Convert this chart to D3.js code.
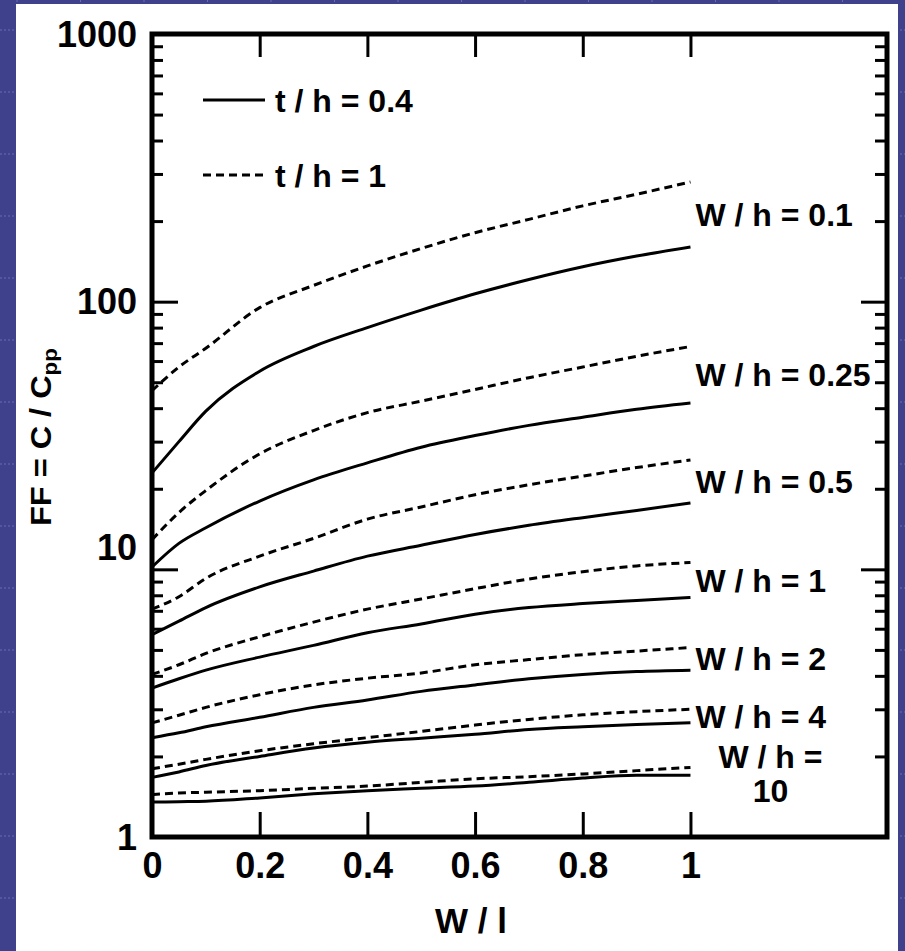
<!DOCTYPE html>
<html>
<head>
<meta charset="utf-8">
<script src="https://cdn.jsdelivr.net/npm/d3@7"></script>
<style>
  body { margin: 0; background: #3f418c; }
  svg { display: block; font-family: "Liberation Sans", Arial, sans-serif; font-weight: bold; }
  .tick line { stroke: #000; stroke-width: 3; }
  .line { fill: none; stroke: #000; stroke-width: 3; stroke-linejoin: round; }
  .dashed { stroke-dasharray: 8, 5; }
</style>
</head>
<body>
<svg class="ff-chart"></svg>
<script>
// W / l positions where the curves were read
var xValues = [0, 0.05, 0.1, 0.2, 0.3, 0.4, 0.5, 0.6, 0.7, 0.8, 0.9, 1];
var xTicks = [0, 0.2, 0.4, 0.6, 0.8, 1];
var yMajor = [1, 10, 100, 1000];
var wOverH = ["0.1", "0.25", "0.5", "1", "2", "4", "10"];

// t / h = 0.4 (solid)
var solidSeries = [
  [22.9, 30, 39, 55, 68, 80, 93, 107, 121, 135, 148, 160],
  [10.2, 12.5, 14.3, 18.0, 21.6, 25.0, 28.6, 31.6, 34.5, 37.0, 39.6, 41.8],
  [5.7, 6.4, 7.2, 8.6, 9.85, 11.2, 12.3, 13.5, 14.6, 15.6, 16.6, 17.7],
  [3.6, 3.9, 4.2, 4.7, 5.2, 5.8, 6.25, 6.8, 7.2, 7.45, 7.65, 7.85],
  [2.35, 2.45, 2.58, 2.8, 3.05, 3.25, 3.5, 3.7, 3.9, 4.05, 4.15, 4.2],
  [1.67, 1.75, 1.85, 2.0, 2.15, 2.26, 2.34, 2.42, 2.52, 2.58, 2.63, 2.67],
  [1.35, 1.355, 1.36, 1.4, 1.45, 1.49, 1.52, 1.55, 1.6, 1.66, 1.7, 1.7]
];

// t / h = 1 (dashed)
var dashedSeries = [
  [46.5, 57, 67, 95, 115, 136, 158, 181, 203, 228, 252, 280],
  [12.9, 16.3, 19.7, 27, 33, 38.5, 42.5, 47, 52, 57, 62.5, 68],
  [7.1, 7.9, 9.25, 11.2, 13.05, 15.4, 17.1, 19.0, 20.7, 22.3, 24.0, 25.6],
  [4.05, 4.4, 4.85, 5.6, 6.35, 7.1, 7.75, 8.47, 9.2, 9.8, 10.3, 10.6],
  [2.67, 2.85, 3.05, 3.4, 3.7, 3.92, 4.1, 4.4, 4.6, 4.8, 4.95, 5.1],
  [1.8, 1.87, 1.95, 2.1, 2.23, 2.35, 2.48, 2.62, 2.75, 2.86, 2.94, 3.0],
  [1.44, 1.46, 1.47, 1.49, 1.52, 1.55, 1.6, 1.65, 1.68, 1.72, 1.77, 1.82]
];

drawChart();

function drawChart() {
  var W = 905, H = 951;
  var margin = {top: 34, right: 18, bottom: 114, left: 152};
  var width = W - margin.left - margin.right;
  var height = H - margin.top - margin.bottom;

  var svg = d3.select(".ff-chart")
    .attr("width", W)
    .attr("height", H);

  // slide background: blue with faint grid, white panel
  svg.append("rect").attr("width", W).attr("height", H).attr("fill", "#3f418c");
  svg.append("g").selectAll("line")
    .data(d3.range(30, H, 62))
    .enter().append("line")
    .attr("x1", 0).attr("x2", W)
    .attr("y1", function(d) { return d; }).attr("y2", function(d) { return d; })
    .attr("stroke", "#6a6cb0").attr("stroke-width", 1).attr("stroke-dasharray", "2,2");
  svg.append("g").selectAll("line")
    .data(d3.range(17, W, 63.5))
    .enter().append("line")
    .attr("y1", 0).attr("y2", H)
    .attr("x1", function(d) { return d; }).attr("x2", function(d) { return d; })
    .attr("stroke", "#6a6cb0").attr("stroke-width", 1).attr("stroke-dasharray", "2,2");
  svg.append("rect")
    .attr("x", 16).attr("y", 4)
    .attr("width", 882).attr("height", H - 4)
    .attr("fill", "#ffffff");

  var x = d3.scaleLinear().domain([0, 1.365]).range([0, width]);
  var y = d3.scaleLog().domain([1, 1000]).range([height, 0]);

  var yMinor = [];
  [1, 10, 100].forEach(function(dec) {
    for (var k = 2; k <= 9; k++) yMinor.push(k * dec);
  });

  var chart = svg.append("g")
    .attr("transform", "translate(" + margin.left + "," + margin.top + ")");

  // axes, ticks pointing inward
  chart.append("g")
    .attr("transform", "translate(0," + height + ")")
    .call(d3.axisBottom(x).tickValues(xTicks).tickSizeInner(-25).tickSizeOuter(0)
      .tickPadding(15).tickFormat(d3.format("")))
    .call(function(g) { g.select(".domain").remove(); })
    .selectAll("text").attr("font-size", 36).attr("font-family", null).attr("fill", "#000");

  chart.append("g")
    .call(d3.axisTop(x).tickValues(xTicks).tickSizeInner(-23).tickSizeOuter(0).tickFormat(""))
    .call(function(g) { g.select(".domain").remove(); });

  chart.append("g")
    .call(d3.axisLeft(y).tickValues(yMajor).tickSizeInner(-26).tickSizeOuter(0)
      .tickPadding(15).tickFormat(d3.format("")))
    .call(function(g) { g.select(".domain").remove(); })
    .selectAll("text")
    .attr("font-size", 36).attr("font-family", null).attr("fill", "#000")
    .attr("dy", function(d) { return d === 10 ? "-0.28em" : "0.34em"; });

  chart.append("g")
    .call(d3.axisLeft(y).tickValues(yMinor).tickSizeInner(-11).tickSizeOuter(0).tickFormat(""))
    .call(function(g) { g.select(".domain").remove(); });

  chart.append("g")
    .attr("transform", "translate(" + width + ",0)")
    .call(d3.axisRight(y).tickValues(yMajor).tickSizeInner(-26).tickSizeOuter(0).tickFormat(""))
    .call(function(g) { g.select(".domain").remove(); });

  chart.append("g")
    .attr("transform", "translate(" + width + ",0)")
    .call(d3.axisRight(y).tickValues(yMinor).tickSizeInner(-12).tickSizeOuter(0).tickFormat(""))
    .call(function(g) { g.select(".domain").remove(); });

  chart.append("rect")
    .attr("width", width).attr("height", height)
    .attr("fill", "none").attr("stroke", "#000").attr("stroke-width", 5);

  // curves
  var valueline = d3.line()
    .x(function(d, i) { return x(xValues[i]); })
    .y(function(d) { return y(d); })
    .curve(d3.curveMonotoneX);

  chart.selectAll(".solid")
    .data(solidSeries)
    .enter().append("path")
    .attr("class", "line solid")
    .attr("d", valueline);

  chart.selectAll(".dashed")
    .data(dashedSeries)
    .enter().append("path")
    .attr("class", "line dashed")
    .attr("d", valueline);

  // W / h labels, between the two curve ends
  var last = xValues.length - 1;
  wOverH.forEach(function(w, i) {
    var mid = (y(solidSeries[i][last]) + y(dashedSeries[i][last])) / 2;
    if (i < wOverH.length - 1) {
      chart.append("text")
        .attr("x", x(1) + 5)
        .attr("y", mid)
        .attr("dy", "0.36em")
        .attr("font-size", 32)
        .text("W / h = " + w);
    } else {
      var lbl = chart.append("text")
        .attr("x", x(1) + 80)
        .attr("y", mid)
        .attr("text-anchor", "middle")
        .attr("font-size", 32);
      lbl.append("tspan").attr("x", x(1) + 80).attr("dy", "-0.1em").text("W / h =");
      lbl.append("tspan").attr("x", x(1) + 80).attr("dy", "1.05em").text(w);
    }
  });

  // legend
  var legend = chart.append("g").attr("transform", "translate(51,66)");
  legend.append("line").attr("class", "line")
    .attr("x1", 0).attr("x2", 62).attr("y1", 0).attr("y2", 0);
  legend.append("text").attr("x", 72).attr("dy", "0.36em").attr("font-size", 32).text("t / h = 0.4");
  legend.append("line").attr("class", "line dashed")
    .attr("x1", 0).attr("x2", 62).attr("y1", 75).attr("y2", 75);
  legend.append("text").attr("x", 72).attr("y", 75).attr("dy", "0.36em").attr("font-size", 32).text("t / h = 1");

  // axis titles
  var yTitle = svg.append("text")
    .attr("transform", "translate(51,526) rotate(-90) scale(1.12,1)")
    .attr("font-size", 29);
  yTitle.append("tspan").text("FF = C / C");
  yTitle.append("tspan").attr("font-size", 20).attr("dy", "0.3em").text("pp");

  svg.append("text")
    .attr("x", 471)
    .attr("y", 933)
    .attr("text-anchor", "middle")
    .attr("font-size", 35)
    .text("W / l");
}
</script>
</body>
</html>
